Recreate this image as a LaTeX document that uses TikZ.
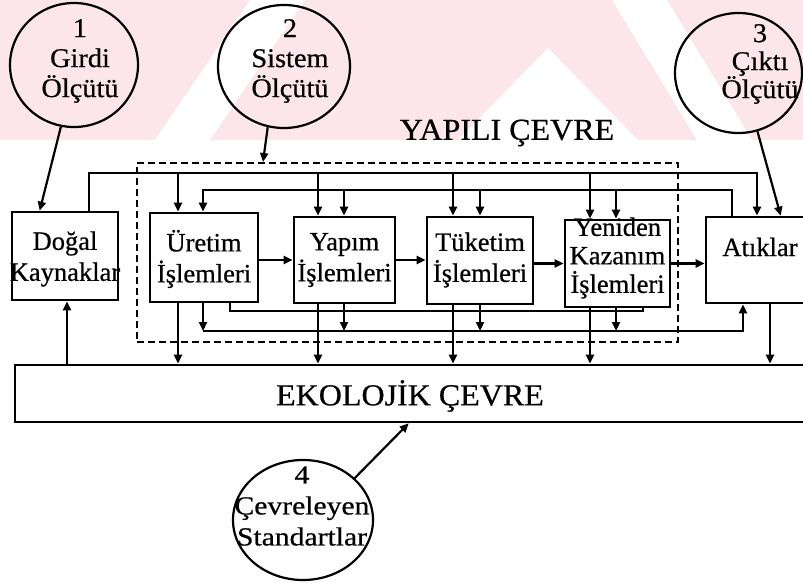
\documentclass[tikz,border=0pt]{standalone}
\usepackage{fontspec}
\setmainfont{Liberation Serif}[FakeStretch=1.05,FakeBold=0.6]
\newfontfamily\widefont{Liberation Serif}[FakeStretch=1.14,FakeBold=0.6]
\newfontfamily\boxfont{Liberation Serif}[FakeBold=0.6]
\usetikzlibrary{arrows.meta,shapes.geometric}
\definecolor{wmpink}{RGB}{252,230,235}
\begin{document}
\begin{tikzpicture}[x=1pt,y=-1pt,
  box/.style={draw, line width=2.6pt, rectangle, inner sep=0pt},
  lbl/.style={font=\boxfont\fontsize{26.5}{31}\selectfont, align=center, inner sep=0pt},
  clbl/.style={font=\fontsize{27}{30}\selectfont, align=center, inner sep=0pt},
  head/.style={font=\fontsize{30.5}{34}\selectfont, inner sep=0pt},
  crit/.style={draw, line width=2.2pt, ellipse, inner sep=0pt},
  conn/.style={line width=2.2pt},
  arr/.style={conn, -{Triangle[length=9pt,width=8pt]}},
  dashbox/.style={draw, line width=2pt, dash pattern=on 7pt off 4pt, rectangle, inner sep=0pt}
]
\useasboundingbox (0,0) rectangle (803,587);
\clip (0,0) rectangle (803,587);
% watermark
\fill[wmpink] (0,0) rectangle (803,140);
\fill[white] (155,140) -- (210,140) -- (305,0) -- (250,0) -- cycle;
\fill[white] (548,48) -- (458,140) -- (638,140) -- cycle;
\fill[white] (612,0) -- (667,0) -- (752,140) -- (697,140) -- cycle;

% criteria circles
\node[crit, minimum width=128pt, minimum height=124pt] (c1) at (74,65) {};
\node[clbl] (c1t) at (80,61) {1\\Girdi\\Ölçütü};
\node[crit, minimum width=132pt, minimum height=123pt] (c2) at (284,66.5) {};
\node[clbl] (c2t) at (290,61) {2\\Sistem\\Ölçütü};
\node[crit, minimum width=127pt, minimum height=120pt] (c3) at (738.5,73) {};
\node[clbl, font=\fontsize{27}{28}\selectfont] (c3t) at (760,64) {3\\Çıktı\\Ölçütü};
\node[crit, minimum width=140pt, minimum height=120pt] (c4) at (303,520) {};
\node[clbl, font=\widefont\fontsize{26}{31}\selectfont] (c4t) at (302,506) {4\\Çevreleyen\\Standartlar};

% headings
\node[head] (yapili) at (507,133) {YAPILI ÇEVRE};

% dashed built environment
\node[dashbox, minimum width=541pt, minimum height=179pt] (yc) at (407.5,252.5) {};

% boxes
\node[box, minimum width=106pt, minimum height=88pt] (dk) at (65,256) {};
\node[box, minimum width=108pt, minimum height=89pt] (ur) at (204,257.5) {};
\node[box, minimum width=101pt, minimum height=86pt] (yp) at (344.5,260) {};
\node[box, minimum width=106pt, minimum height=87pt] (tk) at (480,260.5) {};
\node[box, minimum width=105pt, minimum height=87pt] (yk) at (617.5,263.5) {};
\node[box, minimum width=124pt, minimum height=86pt] (at) at (768,260) {};
\node[box, minimum width=815pt, minimum height=57pt] (eko) at (422.5,393.5) {};

\node[lbl] (dkt) at (65,259) {Doğal\\Kaynaklar};
\node[lbl] (urt) at (204,259) {Üretim\\İşlemleri};
\node[lbl] (ypt) at (344.5,260) {Yapım\\İşlemleri};
\node[lbl] (tkt) at (480,260) {Tüketim\\İşlemleri};
\node[lbl, font=\boxfont\fontsize{26.5}{28.5}\selectfont] (ykt) at (617.5,258) {Yeniden\\Kazanım\\İşlemleri};
\node[lbl] (att) at (760,247) {Atıklar};
\node[head] (ekot) at (410,396) {EKOLOJİK ÇEVRE};

% junction coordinates
\coordinate (yA) at (0,173);
\coordinate (yB) at (0,190);
\coordinate (yD) at (0,311);
\coordinate (yC) at (0,331);
\coordinate (xDk) at (89,0);
\coordinate (xDkb) at (67,0);
\coordinate (xU1) at (178,0);
\coordinate (xU2) at (203,0);
\coordinate (xU3) at (230,0);
\coordinate (xY1) at (318,0);
\coordinate (xY2) at (344,0);
\coordinate (xT1) at (453,0);
\coordinate (xT2) at (480,0);
\coordinate (xK1) at (590,0);
\coordinate (xK2) at (616,0);
\coordinate (xK3) at (643,0);
\coordinate (xAt1) at (732,0);
\coordinate (xAt2) at (757,0);
\coordinate (xAt3) at (743,0);
\coordinate (xAt4) at (770,0);

% line A: natural resources to all
\draw[arr] (xDk |- dk.north) -- (xDk |- yA) -- (xAt2 |- yA) -- (xAt2 |- at.north);
\foreach \c/\b in {xU1/ur, xY1/yp, xT1/tk, xK1/yk}
  \draw[arr] (\c |- yA) -- (\c |- \b.north);
% line B: from wastes back
\draw[arr] (xAt1 |- at.north) -- (xAt1 |- yB) -- (xU2 |- yB) -- (xU2 |- ur.north);
\foreach \c/\b in {xY2/yp, xT2/tk, xK2/yk}
  \draw[arr] (\c |- yB) -- (\c |- \b.north);
% process chain
\draw[arr] (yp.west -| ur.east) -- (yp.west);
\draw[arr] (yp.east) -- (yp.east -| tk.west);
\draw[arr] (yk.west -| tk.east) -- (yk.west);
\draw[arr] (yk.east) -- (yk.east -| at.west);
% line D
\draw[conn] (xU3 |- ur.south) -- (xU3 |- yD) -- (xK3 |- yD) -- (xK3 |- yk.south);
% line C: to wastes
\draw[arr] (xU2 |- yC) -- (xAt3 |- yC) -- (xAt3 |- at.south);
\foreach \c/\b in {xU2/ur, xY2/yp, xT2/tk, xK2/yk}
  \draw[arr] (\c |- \b.south) -- (\c |- yC);
% to ecological environment
\foreach \c/\b in {xU1/ur, xY1/yp, xT1/tk, xK1/yk, xAt4/at}
  \draw[arr] (\c |- \b.south) -- (\c |- eko.north);
\draw[arr] (xDkb |- eko.north) -- (xDkb |- dk.south);

% criteria arrows
\draw[arr] (c1.-102) -- ([xshift=29pt]dk.north west);
\draw[arr] (c2.-105) -- ([xshift=127pt]yc.north west);
\draw[arr] (c3.-72) -- ([xshift=76pt]at.north west);
\draw[arr] (c4.39) -- ([xshift=395pt]eko.south west);
\end{tikzpicture}
\end{document}
